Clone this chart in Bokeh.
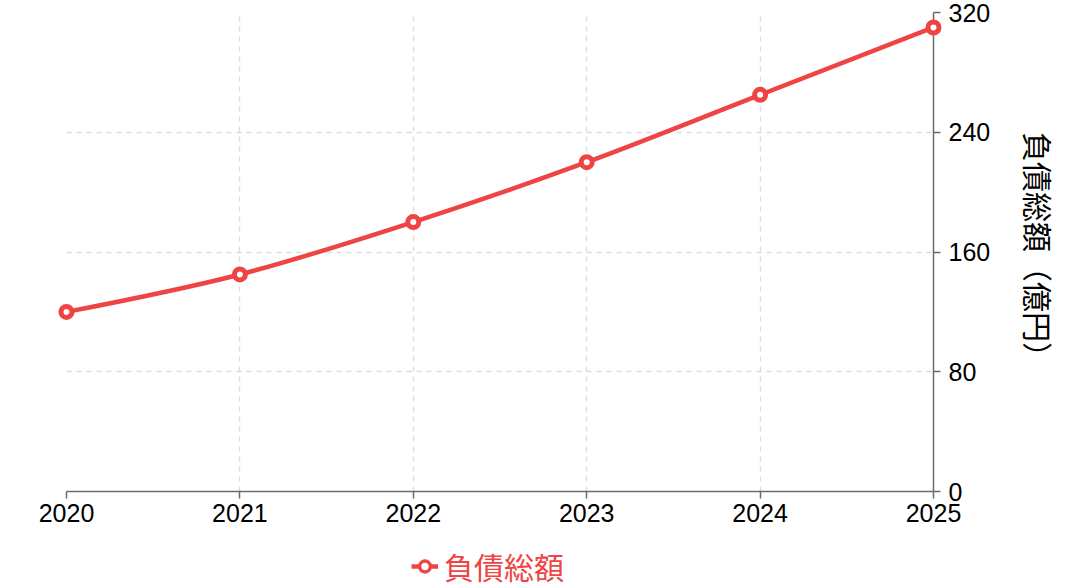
import numpy as np
from bokeh.plotting import figure
from bokeh.embed import file_html
from bokeh.resources import INLINE
from bokeh.layouts import column
from bokeh.models import FixedTicker, Range1d, Legend, LegendItem, ColumnDataSource

years = [2020, 2021, 2022, 2023, 2024, 2025]
debt = [120, 145, 180, 220, 265, 310]
y_ticks = [0, 80, 160, 240, 320]
series_name = "負債総額"
y_label = "負債総額（億円）"

RED = "#ef4444"
src = ColumnDataSource(dict(x=years, y=debt))

# monotone-x cubic segments (smooth line through the data points)
xa = np.array(years, dtype=float)
ya = np.array(debt, dtype=float)
h = np.diff(xa)
s = np.diff(ya) / h
t = np.zeros_like(ya)
for i in range(1, len(ya) - 1):
    pp = (s[i - 1] * h[i] + s[i] * h[i - 1]) / (h[i - 1] + h[i])
    t[i] = (np.sign(s[i - 1]) + np.sign(s[i])) * min(abs(s[i - 1]), abs(s[i]), 0.5 * abs(pp))
t[0] = (3 * s[0] - t[1]) / 2
t[-1] = (3 * s[-1] - t[-2]) / 2
dx = h / 3
seg = ColumnDataSource(dict(
    x0=xa[:-1], y0=ya[:-1], x1=xa[1:], y1=ya[1:],
    cx0=xa[:-1] + dx, cy0=ya[:-1] + dx * t[:-1],
    cx1=xa[1:] - dx, cy1=ya[1:] - dx * t[1:]))

p = figure(width=1081, height=536, output_backend="svg", toolbar_location=None,
           y_axis_location="right",
           x_range=Range1d(2020, 2025), y_range=Range1d(0, 320),
           min_border_left=66, min_border_top=12, min_border_right=148, min_border_bottom=45)
p.outline_line_color = None

line_style = dict(line_color=RED, line_width=4.5)
marker_style = dict(size=11, marker="circle", fill_color="white", line_color=RED, line_width=5)

p.xgrid.grid_line_color = "#dcdcdc"
p.ygrid.grid_line_color = "#dcdcdc"
p.xgrid.grid_line_dash = "5 5"
p.ygrid.grid_line_dash = "5 5"
p.xgrid.grid_line_width = 1.4
p.ygrid.grid_line_width = 1.4

p.xaxis.ticker = FixedTicker(ticks=years)
p.yaxis.ticker = FixedTicker(ticks=y_ticks)
for ax in (p.xaxis[0], p.yaxis[0]):
    ax.axis_line_color = "#6b6b6b"
    ax.axis_line_width = 1.5
    ax.major_tick_line_color = "#6b6b6b"
    ax.major_tick_line_width = 1.5
    ax.major_tick_out = 7
    ax.major_tick_in = 0
    ax.minor_tick_line_color = None
    ax.major_label_text_font = "Liberation Sans"
    ax.major_label_text_font_size = "25px"
    ax.major_label_text_color = "black"
p.xaxis.major_label_standoff = 5
p.yaxis.major_label_standoff = 8
p.yaxis.axis_label = y_label
p.yaxis.axis_label_text_font = "Noto Sans CJK JP"
p.yaxis.axis_label_text_font_size = "30px"
p.yaxis.axis_label_text_font_style = "normal"
p.yaxis.axis_label_text_color = "black"
p.yaxis.axis_label_standoff = 24

p.bezier("x0", "y0", "x1", "y1", "cx0", "cy0", "cx1", "cy1", source=seg,
         level="overlay", **line_style)
p.scatter("x", "y", source=src, level="overlay", **marker_style)

# legend strip: same series, drawn outside this strip's view so only the legend shows
p2 = figure(width=1081, height=52, output_backend="svg", toolbar_location=None,
            x_range=Range1d(0, 1), y_range=Range1d(0, 1),
            x_axis_type=None, y_axis_type=None,
            min_border_left=0, min_border_right=0, min_border_top=0, min_border_bottom=0)
p2.outline_line_color = None
p2.xgrid.visible = False
p2.ygrid.visible = False
ln2 = p2.line("x", "y", source=src, **line_style)
mk2 = p2.scatter("x", "y", source=src, size=9, marker="circle", fill_color="white",
                 line_color=RED, line_width=3.5)

legend = Legend(items=[LegendItem(label=series_name, renderers=[ln2, mk2])],
                location=(345, 0), orientation="horizontal",
                label_text_font="Noto Sans CJK JP", label_text_font_size="30px",
                label_text_color=RED, background_fill_alpha=0, border_line_color=None,
                padding=0, margin=0, glyph_width=27, glyph_height=30, label_height=30,
                label_standoff=6)
p2.add_layout(legend, "center")

open("out.html", "w").write(file_html(column(p, p2, spacing=0), INLINE))
